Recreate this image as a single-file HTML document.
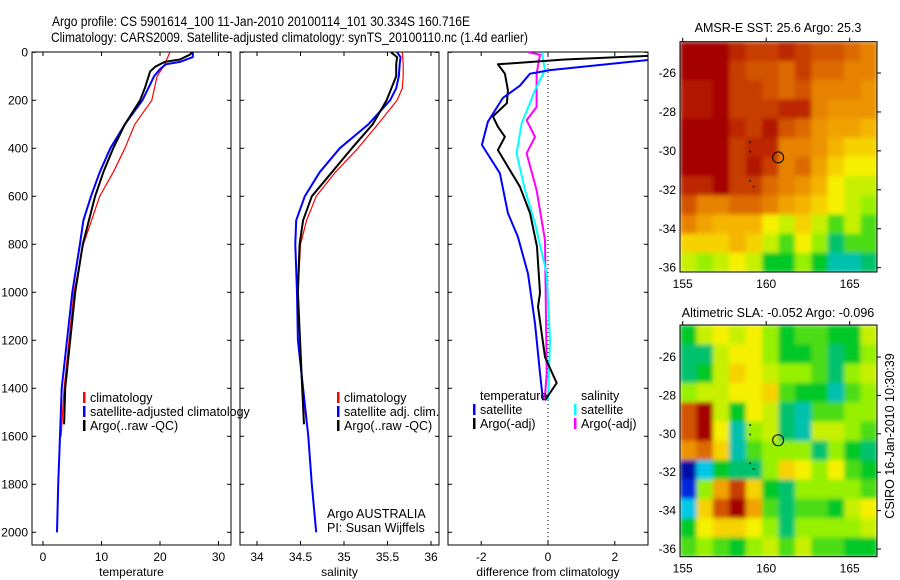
<!DOCTYPE html>
<html><head><meta charset="utf-8"><style>
html,body{margin:0;padding:0;background:#fff;}
svg{display:block;font-family:"Liberation Sans",sans-serif;}
</style></head><body>
<svg id="c" width="900" height="580" viewBox="0 0 900 580">
<defs>
<filter id="blur" x="0" y="0" width="1" height="1"><feGaussianBlur stdDeviation="2" edgeMode="duplicate"/></filter>
</defs>
<text x="52" y="26" font-size="14" textLength="418" lengthAdjust="spacingAndGlyphs">Argo profile: CS 5901614_100 11-Jan-2010 20100114_101 30.334S 160.716E</text>
<text x="51" y="42" font-size="14" textLength="477" lengthAdjust="spacingAndGlyphs">Climatology: CARS2009. Satellite-adjusted climatology: synTS_20100110.nc (1.4d earlier)</text>
</svg>
<script>
// ---- data ----
const depthTicks=[0,200,400,600,800,1000,1200,1400,1600,1800,2000];
const tempTicks=[0,10,20,30];
const salTicks=[34,34.5,35,35.5,36];
const diffTicks=[-2,0,2];
const tClimD=[0,50,100,200,300,400,500,600,800,1000,1400,1600];
const tClimV=[21.7,20.8,19.5,18.6,15.7,14,12,9.7,6.9,5.3,3.6,3.1];
const tSatD=[0,20,40,50,70,100,200,300,400,500,600,700,800,1000,1400,1600,1800,2000];
const tSatV=[25.6,25.6,23.4,21,20,19,17,14,11.5,9.7,8.2,6.9,6.3,5,3.2,2.9,2.6,2.4];
const tArgD=[0,10,30,40,60,80,150,200,300,400,500,600,800,1000,1400,1550];
const tArgV=[25.5,25.1,23.4,20.8,19.2,18.3,17.4,16.6,14,12,10.3,8.9,6.8,5.5,3.8,3.6];
const sClimD=[0,50,100,150,200,300,400,500,600,700,800,1000,1400,1600];
const sClimV=[35.67,35.68,35.68,35.67,35.61,35.39,35.16,34.9,34.68,34.57,34.5,34.47,34.52,34.59];
const sSatD=[0,20,50,100,150,200,300,400,500,600,700,800,1000,1200,1400,1600,1800,2000];
const sSatV=[35.61,35.65,35.64,35.63,35.6,35.53,35.28,34.95,34.72,34.55,34.45,34.44,34.46,34.47,34.53,34.59,34.63,34.68];
const sArgD=[0,20,50,100,200,300,400,500,600,700,800,1000,1400,1550];
const sArgV=[35.54,35.61,35.6,35.6,35.49,35.33,35.09,34.86,34.63,34.53,34.49,34.47,34.52,34.54];
const dTSatD=[32,74,89,139,190,289,386,504,670,769,922,1130,1337,1450];
const dTSatV=[3.0,0.06,-0.54,-0.84,-1.35,-1.8,-1.98,-1.44,-1.2,-0.9,-0.6,-0.39,-0.24,-0.15];
const dTArgD=[15,30,50,89,158,212,267,310,352,407,477,560,670,810,1003,1060,1270,1378,1450];
const dTArgV=[3.0,0.5,-1.5,-1.29,-1.2,-1.23,-1.65,-1.5,-1.29,-1.5,-1.2,-0.84,-0.54,-0.33,-0.24,-0.3,-0.09,0.26,-0.09];
const dSSatD=[0,74,158,297,421,574,713,922,1199,1450];
const dSSatV=[-0.19,-0.09,-0.39,-0.79,-0.94,-0.69,-0.39,-0.04,0.06,0];
const dSArgD=[0,10,89,228,283,352,421,574,783,1338,1450];
const dSArgV=[-0.59,-0.24,-0.34,-0.34,-0.64,-0.39,-0.64,-0.34,-0.09,-0.04,-0.1];
const lonTicks=[155,160,165];
const latTicks=[-26,-28,-30,-32,-34,-36];
const sstGrid=[
[1,1,1,0.9,0.85,0.85,0.9,0.85,0.8,0.8,0.75,0.7],
[1,1,1,0.85,0.8,0.8,0.75,0.85,0.75,0.75,0.7,0.7],
[0.95,0.95,1,0.85,0.85,0.8,0.75,0.8,0.7,0.7,0.7,0.65],
[0.95,0.95,1,0.85,0.85,0.85,0.9,0.9,0.7,0.65,0.65,0.65],
[1,1,1,0.9,0.85,0.95,0.8,0.75,0.65,0.6,0.6,0.55],
[1,1,1,0.85,0.9,0.9,0.7,0.7,0.65,0.55,0.5,0.5],
[1,1,1,0.85,0.95,0.85,0.7,0.75,0.6,0.5,0.45,0.45],
[0.9,0.9,1,0.85,0.85,0.75,0.7,0.65,0.55,0.45,0.4,0.4],
[0.8,0.7,0.7,0.75,0.75,0.7,0.6,0.55,0.5,0.45,0.4,0.35],
[0.7,0.6,0.55,0.55,0.55,0.45,0.4,0.5,0.4,0.3,0.4,0.3],
[0.5,0.5,0.5,0.55,0.5,0.4,0.3,0.45,0.35,0.2,0.3,0.3],
[0.4,0.35,0.4,0.45,0.4,0.25,0.25,0.35,0.25,0.15,0.15,0.2]];
const slaGrid=[
[0.25,0.4,0.45,0.4,0.45,0.35,0.25,0.3,0.3,0.25,0.25,0.4],
[0.2,0.2,0.4,0.45,0.45,0.35,0.25,0.25,0.3,0.2,0.25,0.35],
[0.2,0.25,0.4,0.5,0.45,0.4,0.35,0.35,0.3,0.2,0.35,0.4],
[0.35,0.4,0.4,0.45,0.45,0.5,0.3,0.25,0.25,0.15,0.3,0.35],
[0.8,1,0.4,0.25,0.45,0.4,0.2,0.15,0.3,0.3,0.35,0.35],
[0.8,1,0.45,0.15,0.35,0.4,0.2,0.15,0.4,0.4,0.35,0.3],
[0.65,0.75,0.5,0.15,0.3,0.35,0.35,0.35,0.2,0.35,0.25,0.2],
[0.02,0.1,0.25,0.2,0.2,0.35,0.5,0.45,0.35,0.45,0.3,0.25],
[0.05,0.35,0.6,0.85,0.5,0.25,0.2,0.35,0.35,0.35,0.35,0.3],
[0.1,0.5,0.8,1,0.6,0.3,0.2,0.3,0.3,0.25,0.4,0.45],
[0.25,0.45,0.5,0.5,0.45,0.35,0.2,0.35,0.35,0.35,0.35,0.4],
[0.3,0.35,0.3,0.25,0.35,0.4,0.3,0.4,0.3,0.3,0.25,0.25]];
const argoLon=160.716, argoLat=-30.334;

const svg=document.getElementById('c');
const NS='http://www.w3.org/2000/svg';
function mk(tag,attrs,parent){const e=document.createElementNS(NS,tag);for(const k in attrs)e.setAttribute(k,attrs[k]);(parent||svg).appendChild(e);return e;}
function txt(x,y,s,size,anchor,parent){const t=mk('text',{x:x,y:y,'font-size':size,'text-anchor':anchor||'start'},parent);t.textContent=s;return t;}

const yD=d=>52.3+d*0.24;
const PB=545;
function panel(name,x0,x1,xf,ticks,label){
  const g=mk('g',{});
  
  
  const r=mk('rect',{x:x0,y:52,width:x1-x0,height:PB-52,fill:'none',stroke:'#000','stroke-width':1},g);
  
  
  ticks.forEach(v=>{const x=xf(v);mk('line',{x1:x,x2:x,y1:PB,y2:PB-4,stroke:'#000'},g);mk('line',{x1:x,x2:x,y1:52,y2:56,stroke:'#000'},g);
    const t=txt(x,561,String(v),12,'middle',g);});
  depthTicks.forEach(d=>{const y=yD(d);mk('line',{x1:x0,x2:x0+4,y1:y,y2:y,stroke:'#000'},g);mk('line',{x1:x1,x2:x1-4,y1:y,y2:y,stroke:'#000'},g);});
  const l=txt((x0+x1)/2,576,label,12,'middle',g);
  
  
  return g;
}
function line(D,V,xf,color,w,name,g){
  const p=D.map((d,i)=>xf(V[i]).toFixed(1)+','+yD(d).toFixed(1)).join(' ');
  const e=mk('polyline',{points:p,fill:'none',stroke:color,'stroke-width':w,'stroke-linejoin':'round'},g);
  
  
}
const xT=v=>43+v*5.85, xS=v=>257+(v-34)*87, xDf=v=>548+v*33.4;
const g1=panel('temperature-panel',32,231,xT,tempTicks,'temperature');
const g2=panel('salinity-panel',240,439,xS,salTicks,'salinity');
const g3=panel('difference-panel',448,648,xDf,diffTicks,'difference from climatology');
depthTicks.forEach(d=>{const t=txt(28,yD(d)+4,String(d),12,'end');});
const cl=mk('clipPath',{id:'cp3'});mk('rect',{x:448,y:52,width:200,height:493},cl);
line(tClimD,tClimV,xT,'#f00',1.2,'temp-climatology-line',g1);
line(tSatD,tSatV,xT,'#00f',2,'temp-satellite-line',g1);
line(tArgD,tArgV,xT,'#000',2,'temp-argo-line',g1);
line(sClimD,sClimV,xS,'#f00',1.2,'sal-climatology-line',g2);
line(sSatD,sSatV,xS,'#00f',2,'sal-satellite-line',g2);
line(sArgD,sArgV,xS,'#000',2,'sal-argo-line',g2);
const g3c=mk('g',{'clip-path':'url(#cp3)'},g3);
mk('line',{x1:xDf(0),x2:xDf(0),y1:52,y2:PB,stroke:'#000','stroke-dasharray':'1,3'},g3c);
line(dSArgD,dSArgV,xDf,'#f0f',2,'diff-sal-argo-line',g3c);
line(dSSatD,dSSatV,xDf,'#0ff',2,'diff-sal-satellite-line',g3c);
line(dTArgD,dTArgV,xDf,'#000',2,'diff-temp-argo-line',g3c);
line(dTSatD,dTSatV,xDf,'#00f',2,'diff-temp-satellite-line',g3c);

function legend(x,y,items,parent,name){
  const g=mk('g',{},parent);
  
  
  items.forEach((it,i)=>{const yy=y+i*14;
    if(it[0])mk('rect',{x:x,y:yy-10,width:2.5,height:11,fill:it[0]},g);
    const t=txt(x+7,yy,it[1],12.5,'start',g);
    
    });
}
legend(83,402,[['#f00','climatology'],['#00f','satellite-adjusted climatology'],['#000','Argo(..raw -QC)']],svg,'temperature-legend');
legend(337,402,[['#f00','climatology'],['#00f','satellite adj. clim.'],['#000','Argo(..raw -QC)']],svg,'salinity-legend');
legend(473,400,[[null,'temperature'],['#00f','satellite'],['#000','Argo(-adj)']],svg,'diff-temp-legend');
legend(574,400,[[null,'salinity'],['#0ff','satellite'],['#f0f','Argo(-adj)']],svg,'diff-sal-legend');
const cr1=txt(327,518,'Argo AUSTRALIA',12.5);


const cr2=txt(327,532,'PI: Susan Wijffels',12.5);



// colormap (jet-like, 1=dark red)
const stops=[[0,[0,0,130]],[0.05,[0,40,220]],[0.1,[0,200,230]],[0.17,[0,190,150]],[0.25,[0,200,40]],[0.35,[150,240,0]],[0.45,[245,240,0]],[0.55,[245,180,0]],[0.7,[230,130,0]],[0.85,[200,60,0]],[1,[165,0,0]]];
function cmap(v){for(let i=1;i<stops.length;i++){if(v<=stops[i][0]){const a=stops[i-1],b=stops[i],t=(v-a[0])/(b[0]-a[0]);return 'rgb('+a[1].map((c,k)=>Math.round(c+(b[1][k]-c)*t)).join(',')+')';}}return 'rgb(165,0,0)';}
let mapCount=0;
function map(name,top,bot,lat26,lat36,grid,title,ty){
  const L=680,R=877;
  const g=mk('g',{});
  
  
  const xL=lon=>682.7+(lon-155)*16.7;
  const yL=lat=>lat26+(-26-lat)*(lat36-lat26)/10;
  const cid='mc'+(mapCount++);
  const cp=mk('clipPath',{id:cid});mk('rect',{x:L,y:top,width:R-L,height:bot-top},cp);
  const outer=mk('g',{'clip-path':'url(#'+cid+')'},g);
  const cells=mk('g',{filter:'url(#blur)'},outer);
  const rows=grid.length, cols=grid[0].length, cw=(R-L)/cols, ch=(bot-top)/rows;
  grid.forEach((row,i)=>row.forEach((v,j)=>{
    const c=mk('rect',{x:(L+j*cw).toFixed(2),y:(top+i*ch).toFixed(2),width:(cw+0.6).toFixed(2),height:(ch+0.6).toFixed(2),fill:cmap(v)},cells);
    
    
  }));
  mk('rect',{x:L,y:top,width:R-L,height:bot-top,fill:'none',stroke:'#000'},g);
  lonTicks.forEach(v=>{const x=xL(v);mk('line',{x1:x,x2:x,y1:top,y2:top-4,stroke:'#000'},g);
    const t=txt(x,bot+16,String(v),12,'middle',g);});
  latTicks.forEach(v=>{const y=yL(v);mk('line',{x1:R,x2:R+4,y1:y,y2:y,stroke:'#000'},g);
    const t=txt(676,y+4,String(v),12,'end',g);});
  const c=mk('circle',{cx:xL(argoLon),cy:yL(argoLat),r:5.5,fill:'none',stroke:'#000','stroke-width':1},g);
  
  
  [[159,-29.5],[159,-30],[159,-31.5],[159.2,-31.8]].forEach(p=>mk('rect',{x:xL(p[0]),y:yL(p[1]),width:1.5,height:1.5,fill:'#000'},g));
  const t=txt(778,ty,title,12.5,'middle',g);
  
  
}
map('sst-map',41.7,272,73,267.7,sstGrid,'AMSR-E SST: 25.6 Argo: 25.3',32);
map('sla-map',325,556.7,357,549,slaGrid,'Altimetric SLA: -0.052 Argo: -0.096',317);
const rt=txt(0,0,'CSIRO 16-Jan-2010 10:30:39',12.5,'middle');
rt.setAttribute('transform','translate(894,436) rotate(-90)');


</script>
</body></html>
